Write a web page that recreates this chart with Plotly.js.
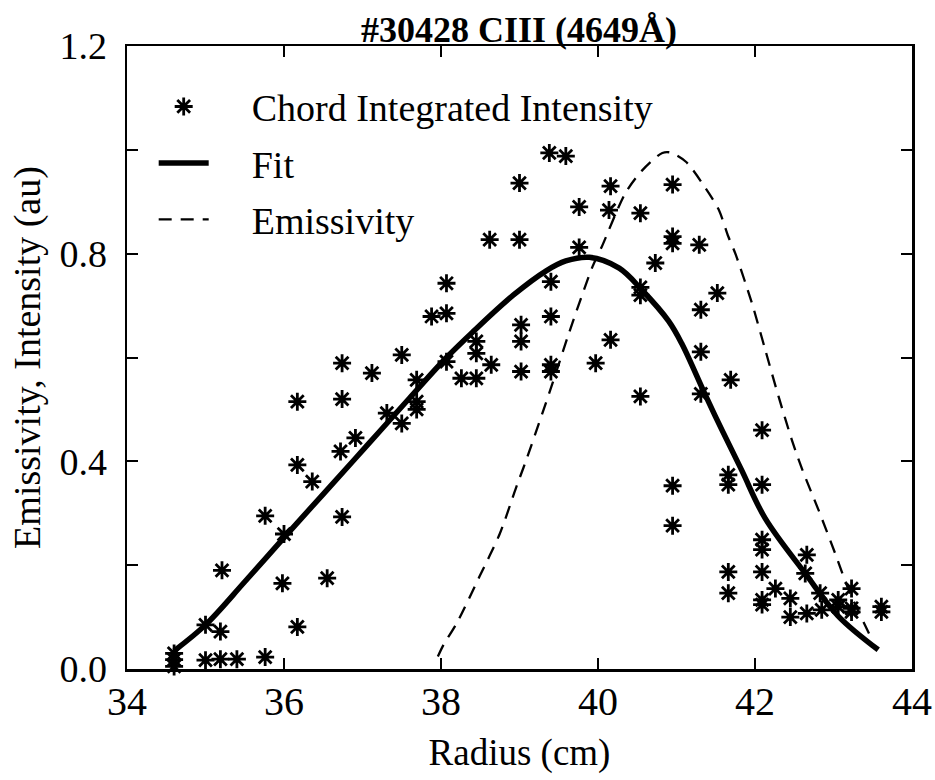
<!DOCTYPE html>
<html>
<head>
<meta charset="utf-8">
<script src="https://cdn.plot.ly/plotly-3.0.1.min.js"></script>
<style>html,body{margin:0;padding:0;background:#fff;}</style>
</head>
<body>
<div id="chart" style="width:935px;height:780px;"></div>
<script>
// Chord integrated intensity (asterisks)
const pointRadius = [34.60,34.60,34.60,35.00,35.00,35.00,35.19,35.19,35.21,35.40,35.76,35.76,35.98,36.00,36.17,36.17,36.17,36.36,36.55,36.72,36.74,36.74,36.74,36.91,37.12,37.31,37.50,37.50,37.69,37.69,37.69,37.88,38.07,38.07,38.07,38.26,38.45,38.45,38.45,38.62,38.64,39.00,39.00,39.02,39.02,39.02,39.38,39.40,39.40,39.40,39.40,39.59,39.76,39.76,39.97,40.14,40.16,40.16,40.54,40.54,40.54,40.54,40.73,40.95,40.95,40.95,40.95,40.95,41.29,41.31,41.31,41.31,41.52,41.66,41.66,41.66,41.66,41.69,42.09,42.09,42.09,42.09,42.09,42.09,42.09,42.26,42.45,42.45,42.64,42.66,42.66,42.83,42.85,43.06,43.06,43.23,43.23,43.23,43.61,43.61];
const pointIntensity = [0.005,0.018,0.030,0.017,-0.005,0.085,0.019,0.072,0.190,0.019,0.023,0.295,0.165,0.260,0.081,0.393,0.515,0.361,0.175,0.419,0.293,0.520,0.589,0.445,0.570,0.493,0.473,0.605,0.500,0.515,0.557,0.679,0.592,0.685,0.743,0.560,0.560,0.608,0.631,0.827,0.586,0.827,0.936,0.573,0.631,0.663,0.994,0.573,0.586,0.679,0.746,0.988,0.812,0.890,0.589,0.884,0.634,0.930,0.525,0.720,0.735,0.878,0.782,0.276,0.353,0.820,0.833,0.933,0.817,0.530,0.611,0.692,0.724,0.146,0.187,0.355,0.374,0.557,0.124,0.133,0.187,0.230,0.249,0.355,0.460,0.155,0.100,0.136,0.184,0.107,0.220,0.146,0.114,0.120,0.133,0.110,0.117,0.155,0.110,0.120];

// Fit (solid line)
const fitRadius = [34.60,35.00,35.50,36.00,36.50,36.90,37.22,37.60,38.07,38.41,38.92,39.34,39.59,39.89,40.27,40.56,40.90,41.07,41.37,41.58,41.83,42.13,42.64,43.06,43.57];
const fitValue  = [0.035,0.085,0.168,0.253,0.337,0.404,0.458,0.522,0.600,0.650,0.720,0.767,0.786,0.793,0.772,0.730,0.670,0.626,0.527,0.460,0.383,0.290,0.184,0.102,0.037];

// Emissivity (dashed line)
const emisRadius = [37.96,38.03,38.20,38.49,38.75,38.96,39.08,39.42,39.63,39.93,40.05,40.35,40.56,40.82,40.92,41.12,41.37,41.54,41.66,41.75,41.96,42.13,42.30,42.47,42.60,42.81,43.02,43.20,43.48];
const emisValue  = [0.024,0.046,0.088,0.178,0.261,0.351,0.400,0.550,0.647,0.775,0.814,0.917,0.960,0.994,0.995,0.977,0.926,0.884,0.833,0.800,0.705,0.615,0.525,0.441,0.385,0.306,0.223,0.150,0.060];

const xTickVals = [34,36,38,40,42,44];
const xTickText = ['34','36','38','40','42','44'];
const yTickVals = [0,0.2,0.4,0.6,0.8,1.0,1.2];
const yTickText = ['0.0','','0.4','','0.8','','1.2'];

const seriesNames = ['\u00a0\u00a0\u00a0\u00a0Chord Integrated Intensity','\u00a0\u00a0\u00a0\u00a0Fit','\u00a0\u00a0\u00a0\u00a0Emissivity'];
const titleText = '#30428 CIII (4649Å)';
const xTitle = 'Radius (cm)';
const yTitle = 'Emissivity, Intensity (au)';

const FONT = '"Liberation Serif", "Times New Roman", Times, serif';

const traces = [
  {
    x: pointRadius, y: pointIntensity, type: 'scatter', mode: 'markers',
    name: seriesNames[0], legendgroup: 'a', cliponaxis: false,
    marker: {symbol: 'asterisk-open', size: 15, color: '#000', line: {color: '#000', width: 2.8}}
  },
  {
    x: fitRadius, y: fitValue, type: 'scatter', mode: 'lines',
    name: seriesNames[1], legendgroup: 'b',
    line: {color: '#000', width: 5.5, shape: 'spline', smoothing: 1}
  },
  {
    x: emisRadius, y: emisValue, type: 'scatter', mode: 'lines',
    name: seriesNames[2], legendgroup: 'c',
    line: {color: '#000', width: 2.3, dash: '13px,9px', shape: 'spline', smoothing: 0.8}
  }
];

const layout = {
  width: 935, height: 780,
  margin: {l: 127, r: 23, t: 46, b: 111},
  paper_bgcolor: '#fff', plot_bgcolor: '#fff',
  font: {family: FONT, color: '#000', size: 37},
  title: {text: '<b>' + titleText + '</b>', font: {family: FONT, size: 36, color: '#000'},
          x: 0.555, xanchor: 'center', y: 0.962, yanchor: 'middle'},
  showlegend: true,
  legend: {x: 0.034, y: 0.953, xanchor: 'left', yanchor: 'top', bgcolor: 'rgba(0,0,0,0)',
           font: {family: FONT, size: 38, color: '#000'}, itemwidth: 50, tracegroupgap: 4,
           traceorder: 'grouped'},
  xaxis: {
    range: [34, 44], tickmode: 'array', tickvals: xTickVals, ticktext: xTickText,
    ticks: 'inside', ticklen: 11, tickwidth: 2, tickcolor: '#000',
    showline: true, linecolor: '#000', linewidth: 2.5, mirror: 'ticks',
    showgrid: false, zeroline: false, ticklabelstandoff: -5,
    tickfont: {family: FONT, size: 40, color: '#000'},
    title: {text: xTitle, font: {family: FONT, size: 37, color: '#000'}, standoff: 17}
  },
  yaxis: {
    range: [0, 1.2], tickmode: 'array', tickvals: yTickVals, ticktext: yTickText,
    ticks: 'inside', ticklen: 11, tickwidth: 2, tickcolor: '#000',
    showline: true, linecolor: '#000', linewidth: 2.5, mirror: 'ticks',
    showgrid: false, zeroline: false, ticklabelstandoff: 10,
    tickfont: {family: FONT, size: 38, color: '#000'},
    title: {text: yTitle, font: {family: FONT, size: 38, color: '#000'}, standoff: 7}
  }
};

Plotly.newPlot('chart', traces, layout, {displayModeBar: false, staticPlot: true});
</script>
</body>
</html>
